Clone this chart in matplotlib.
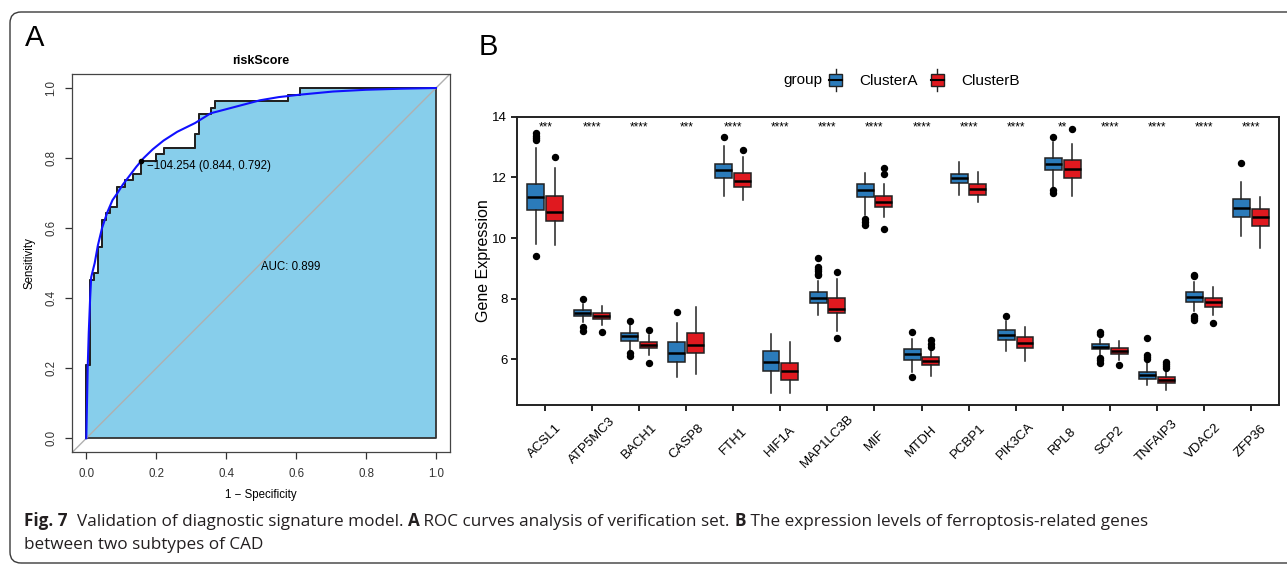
import matplotlib
matplotlib.use('Agg')
import matplotlib.pyplot as plt
from matplotlib.patches import Rectangle, Patch, FancyBboxPatch
from matplotlib.lines import Line2D
from matplotlib.legend_handler import HandlerBase
from matplotlib.transforms import IdentityTransform

plt.rcParams['font.family'] = ['Liberation Sans', 'DejaVu Sans']

################################################################################
# Data.                                                                        #
################################################################################

# Panel A: empirical ROC steps (1 - specificity, sensitivity).
roc_fpr = [0.0, 0.0, 0.011, 0.022, 0.033, 0.044, 0.056, 0.067, 0.089, 0.111,
           0.133, 0.156, 0.200, 0.222, 0.311, 0.322, 0.356, 0.367, 0.578, 0.611, 1.0]
roc_tpr = [0.0, 0.208, 0.453, 0.472, 0.547, 0.623, 0.642, 0.660, 0.717, 0.736,
           0.755, 0.792, 0.811, 0.830, 0.868, 0.925, 0.943, 0.962, 0.981, 1.0, 1.0]

# Panel A: smoothed ROC curve.
smooth_fpr = [0.0, 0.002, 0.004, 0.007, 0.011, 0.014, 0.024, 0.033, 0.045, 0.060,
              0.075, 0.089, 0.105, 0.124, 0.143, 0.164, 0.190, 0.221, 0.260, 0.311,
              0.356, 0.383, 0.440, 0.497, 0.550, 0.611, 0.706, 0.800, 0.900, 1.0]
smooth_tpr = [0.0, 0.10, 0.20, 0.30, 0.40, 0.46, 0.50, 0.55, 0.60, 0.645,
              0.68, 0.70, 0.725, 0.75, 0.775, 0.80, 0.825, 0.85, 0.875, 0.90,
              0.928, 0.935, 0.95, 0.965, 0.974, 0.981, 0.99, 0.995, 0.998, 1.0]

best_fpr, best_tpr = 0.156, 0.792
best_label = '\u2212104.254 (0.844, 0.792)'
auc_label = 'AUC: 0.899'

# Panel B: genes, significance and box statistics.
genes = ['ACSL1', 'ATP5MC3', 'BACH1', 'CASP8', 'FTH1', 'HIF1A', 'MAP1LC3B', 'MIF',
         'MTDH', 'PCBP1', 'PIK3CA', 'RPL8', 'SCP2', 'TNFAIP3', 'VDAC2', 'ZFP36']
signif = ['***', '****', '****', '***', '****', '****', '****', '****',
          '****', '****', '****', '**', '****', '****', '****', '****']

a_lo  = [9.80, 7.25, 6.31, 5.41, 11.40, 4.89, 7.47, 10.76, 5.60, 11.42, 6.29, 11.67, 6.12, 5.16, 7.60, 10.08]
a_q1  = [10.93, 7.43, 6.62, 5.93, 11.99, 5.63, 7.87, 11.34, 5.98, 11.80, 6.64, 12.24, 6.34, 5.36, 7.90, 10.69]
a_med = [11.37, 7.54, 6.78, 6.22, 12.24, 5.93, 8.02, 11.59, 6.17, 11.99, 6.80, 12.43, 6.42, 5.48, 8.07, 11.00]
a_q3  = [11.78, 7.63, 6.86, 6.57, 12.43, 6.29, 8.22, 11.77, 6.33, 12.11, 6.96, 12.65, 6.50, 5.59, 8.23, 11.28]
a_hi  = [12.96, 7.82, 7.19, 7.19, 13.03, 6.83, 8.59, 12.13, 6.67, 12.50, 7.27, 13.18, 6.67, 5.87, 8.54, 11.86]
a_out = [[13.45, 13.38, 13.30, 13.24, 9.42], [7.99, 7.08, 6.94], [7.27, 6.20, 6.10], [7.55],
         [13.32], [], [9.33, 9.05, 8.97, 8.90, 8.83, 8.77], [10.62, 10.52, 10.42],
         [6.92, 5.43], [], [7.44], [13.34, 11.58, 11.50],
         [6.92, 6.85, 6.04, 5.97, 5.90], [6.70, 6.15, 6.08, 6.01], [8.80, 8.74, 7.44, 7.36, 7.30], [12.47]]

b_lo  = [9.77, 7.14, 6.15, 5.51, 11.26, 4.91, 6.94, 10.70, 5.46, 11.18, 5.94, 11.39, 5.98, 5.00, 7.47, 9.68]
b_q1  = [10.56, 7.32, 6.38, 6.20, 11.69, 5.32, 7.52, 11.03, 5.82, 11.42, 6.38, 11.97, 6.18, 5.24, 7.72, 10.41]
b_med = [10.87, 7.42, 6.48, 6.48, 11.89, 5.63, 7.67, 11.20, 5.95, 11.61, 6.55, 12.27, 6.29, 5.32, 7.89, 10.71]
b_q3  = [11.40, 7.52, 6.58, 6.88, 12.13, 5.87, 8.02, 11.40, 6.07, 11.77, 6.73, 12.57, 6.39, 5.41, 8.02, 10.96]
b_hi  = [12.32, 7.76, 6.80, 7.74, 12.68, 6.59, 8.64, 11.77, 6.37, 12.19, 7.06, 13.10, 6.62, 5.60, 8.38, 11.37]
b_out = [[12.67], [6.92], [6.98, 5.88], [], [12.90], [], [8.88, 6.70], [12.30, 12.10, 10.29],
         [6.64, 6.50, 6.42], [], [], [13.58], [5.82], [5.93, 5.85, 5.78, 5.73], [7.20], []]

groups = ['ClusterA', 'ClusterB']
colors = ['#2B7BBA', '#E0191F']

################################################################################
# Plot.                                                                        #
################################################################################

# Start figure.
fig = plt.figure(figsize=(12.87, 5.65), dpi=100)
W, H = 1287., 565.

# Rounded frame of the figure.
frame = FancyBboxPatch((10, 2), 1300, 551, boxstyle='round,pad=0,rounding_size=11',
                       fc='none', ec='#3a3a3a', lw=1.0, transform=IdentityTransform())
fig.add_artist(frame)

fig.text(25/W, 1-38/H, 'A', fontsize=21, va='center', ha='left')
fig.text(479/W, 1-47/H, 'B', fontsize=21, va='center', ha='left')

# --- Panel A: ROC curve ----------------------------------------------------- #
ax = fig.add_axes([72.3/W, 1-452.3/H, 377.7/W, 378.3/H])
ax.fill_between(roc_fpr, roc_tpr, 0, step='post', facecolor='#87CEEB',
                edgecolor='#333333', lw=1.3, zorder=1)
ax.plot(roc_fpr, roc_tpr, drawstyle='steps-post', color='#222222', lw=1.4, zorder=3)
ax.plot([-0.04, 1.04], [-0.04, 1.04], color='#B0B0B0', lw=1.0, zorder=2)
ax.plot(smooth_fpr, smooth_tpr, color='#1010FF', lw=1.5, zorder=4)
ax.plot([best_fpr], [best_tpr], 'o', color='black', ms=3, zorder=5)
ax.text(best_fpr+0.017, best_tpr-0.016, best_label, fontsize=8.3, ha='left', va='center')
ax.text(0.5, 0.49, auc_label, fontsize=8.3, ha='left', va='center')

ax.set_xlim(-0.04, 1.04)
ax.set_ylim(-0.04, 1.04)
ax.set_xticks([0, 0.2, 0.4, 0.6, 0.8, 1.0])
ax.set_yticks([0, 0.2, 0.4, 0.6, 0.8, 1.0])
ax.set_xticklabels(['0.0', '0.2', '0.4', '0.6', '0.8', '1.0'])
ax.set_yticklabels(['0.0', '0.2', '0.4', '0.6', '0.8', '1.0'], rotation=90, va='center')
ax.tick_params(direction='out', length=5, width=0.9, labelsize=8.3, pad=6, colors='#333333')
for sp in ax.spines.values():
  sp.set_linewidth(0.9)
  sp.set_color('#444444')
ax.set_xlabel('1 \u2212 Specificity', fontsize=8.3, labelpad=7)
ax.set_ylabel('Sensitivity', fontsize=8.3, labelpad=7)
ax.set_title('riskScore', fontsize=9, fontweight='bold', pad=7)

# --- Panel B: boxplots ------------------------------------------------------ #
bx = fig.add_axes([517/W, 1-405/H, 762/W, 288.3/H])
for ig, (lo, q1, med, q3, hi, out) in enumerate([(a_lo, a_q1, a_med, a_q3, a_hi, a_out),
                                                 (b_lo, b_q1, b_med, b_q3, b_hi, b_out)]):
  stats = [dict(whislo=lo[i], q1=q1[i], med=med[i], q3=q3[i], whishi=hi[i], fliers=out[i])
           for i in range(len(genes))]
  pos = [i + 1 + (ig - 0.5)*0.4 for i in range(len(genes))]
  bx.bxp(stats, positions=pos, widths=0.36, patch_artist=True, showcaps=False,
         boxprops=dict(facecolor=colors[ig], edgecolor='#222222', lw=1.1),
         medianprops=dict(color='black', lw=1.8),
         whiskerprops=dict(color='#222222', lw=1.1),
         flierprops=dict(marker='o', markerfacecolor='black', markeredgecolor='black', markersize=4.3))

for i, s in enumerate(signif):
  bx.text(i + 1, 13.64, s, ha='center', va='center', fontsize=8.5)

bx.set_xlim(0.4, 16.6)
bx.set_ylim(4.5, 14.0)
bx.set_yticks([6, 8, 10, 12, 14])
bx.set_xticks(range(1, len(genes) + 1))
bx.set_xticklabels(genes, rotation=45, ha='center', va='center', rotation_mode='anchor', fontsize=10.3)
bx.tick_params(direction='out', length=4, width=1.2, labelsize=9.5, pad=3, colors='black')
bx.tick_params(axis='x', pad=22)
for sp in bx.spines.values():
  sp.set_linewidth(1.4)
  sp.set_color('#222222')
bx.set_ylabel('Gene Expression', fontsize=11.5, labelpad=1)

# Legend with small boxplot keys.
class BoxKey(HandlerBase):
  def create_artists(self, legend, orig, xd, yd, w, h, fs, trans):
    cx = -xd + w/2.
    bw = w*0.95
    box = Rectangle((cx - bw/2., -yd + h*0.2), bw, h*0.6, fc=orig.get_facecolor(),
                    ec='#222222', lw=1.0, transform=trans)
    med = Line2D([cx - bw/2., cx + bw/2.], [-yd + h*0.5]*2, color='black', lw=1.5, transform=trans)
    w1 = Line2D([cx, cx], [-yd, -yd + h*0.2], color='#222222', lw=1.0, transform=trans)
    w2 = Line2D([cx, cx], [-yd + h*0.8, -yd + h], color='#222222', lw=1.0, transform=trans)
    return [w1, w2, box, med]

handles = [Patch(facecolor=c) for c in colors]
fig.text(783/W, 1-80/H, 'group', fontsize=11, va='center', ha='left')
fig.legend(handles, groups, handler_map={Patch: BoxKey()}, ncol=2, frameon=False,
           loc='center left', bbox_to_anchor=(829/W, 1-80/H), fontsize=11,
           handlelength=0.9, handleheight=1.8, handletextpad=1.1, columnspacing=0.8,
           borderpad=0, borderaxespad=0)

# --- Caption ---------------------------------------------------------------- #
cap_font = ['Open Sans', 'DejaVu Sans']
cap_size = 12.3
renderer = fig.canvas.get_renderer()
line1 = [('Fig. 7', 'bold'), ('  Validation of diagnostic signature model. ', 'normal'),
         ('A', 'bold'), (' ROC curves analysis of verification set. ', 'normal'),
         ('B', 'bold'), (' The expression levels of ferroptosis-related genes', 'normal')]
x = 24.
for s, wt in line1:
  t = fig.text(x/W, 1-526/H, s, fontsize=cap_size, fontweight=wt, family=cap_font,
               color='#231F20', va='baseline', ha='left')
  x += t.get_window_extent(renderer).width
fig.text(24/W, 1-549/H, 'between two subtypes of CAD', fontsize=cap_size, family=cap_font,
         color='#231F20', va='baseline', ha='left')

# Save figure.
fig.savefig('out.png', dpi=100)
plt.close()
